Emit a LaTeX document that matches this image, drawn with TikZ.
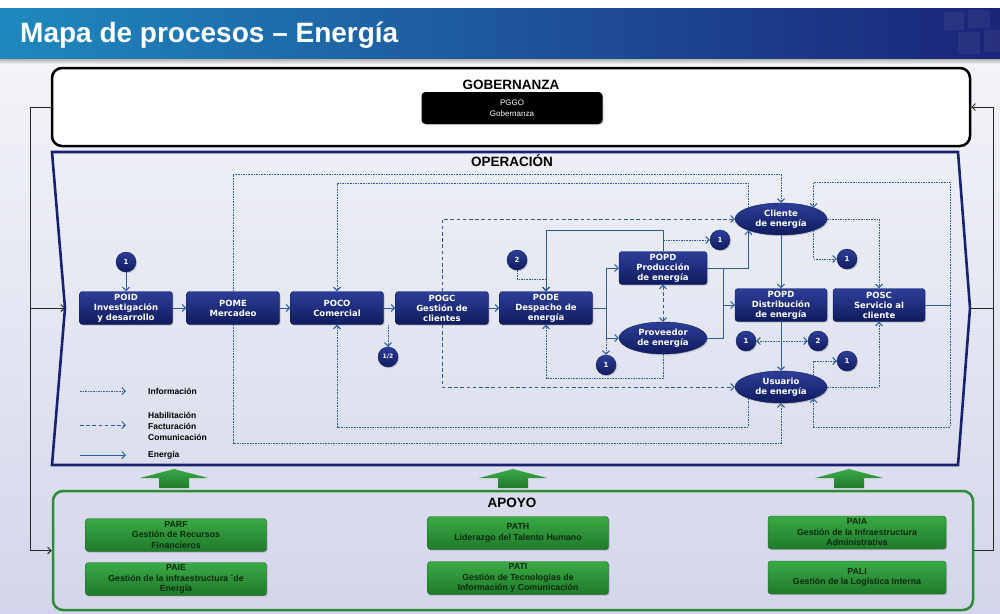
\documentclass[tikz,border=0pt]{standalone}
\usepackage{fontspec}
\setmainfont{Liberation Sans}
\newfontfamily\boxfont{DejaVu Sans}
\usetikzlibrary{arrows.meta,shapes.geometric,shadows}

\definecolor{navyA}{HTML}{2C3E98}
\definecolor{navyB}{HTML}{101B5E}
\definecolor{opborder}{HTML}{18226E}
\definecolor{link}{HTML}{2C5E9E}
\definecolor{greenA}{HTML}{3AAA45}
\definecolor{greenB}{HTML}{1F7A2B}
\definecolor{greenline}{HTML}{2E8B3A}
\definecolor{greentext}{HTML}{0B2A0E}
\definecolor{bgtop}{HTML}{F3F4F8}
\definecolor{bgmid}{HTML}{E0E2EE}
\definecolor{bgbot}{HTML}{D3D6EA}
\definecolor{barL}{HTML}{1F88BF}
\definecolor{barM}{HTML}{1E4F9F}
\definecolor{barR}{HTML}{1B2478}

\begin{document}
\begin{tikzpicture}[x=1pt,y=-1pt,
  nshadow/.style={drop shadow={shadow xshift=1.2pt,shadow yshift=-1.2pt,opacity=0.35}},
  proc/.style={rectangle,rounded corners=3pt,top color=navyA,bottom color=navyB,draw=navyB,
    line width=0.4pt,minimum width=93pt,minimum height=33pt,inner sep=1pt,align=center,
    text=white,font=\boxfont\bfseries\fontsize{8.5}{10}\selectfont,nshadow},
  agent/.style={ellipse,top color=navyA,bottom color=navyB,draw=navyB,line width=0.4pt,
    minimum width=92pt,minimum height=32pt,inner sep=0pt,align=center,
    text=white,font=\boxfont\bfseries\fontsize{8.5}{10}\selectfont,nshadow},
  badge/.style={circle,top color=navyA,bottom color=navyB,draw=navyB,line width=0.4pt,
    minimum size=20pt,inner sep=0pt,text=white,font=\boxfont\bfseries\fontsize{7}{7}\selectfont,nshadow},
  support/.style={rectangle,rounded corners=3pt,top color=greenA,bottom color=greenB,
    draw=greenB!80!black,line width=0.4pt,minimum width=181pt,minimum height=33pt,inner sep=1pt,
    align=center,text=greentext,font=\bfseries\fontsize{8.8}{10.5}\selectfont,
    drop shadow={shadow xshift=1.2pt,shadow yshift=-1.2pt,opacity=0.4}},
  header/.style={font=\bfseries\fontsize{13.5}{14}\selectfont,inner sep=0pt},
  legendtext/.style={anchor=west,align=left,inner sep=0pt,font=\bfseries\fontsize{8.5}{11}\selectfont},
  tip/.style={-{Straight Barb[length=3.5pt,width=7pt]}},
  both/.style={{Straight Barb[length=3.5pt,width=7pt]}-{Straight Barb[length=3.5pt,width=7pt]}},
  wire/.style={draw=link,line width=1pt},
  flow/.style={wire,tip},
  info/.style={flow,dash pattern=on 1.6pt off 1pt},
  hab/.style={flow,dash pattern=on 3.6pt off 2.6pt},
  outer/.style={draw=black!85,line width=0.9pt}
]
\useasboundingbox (0,0) rectangle (1000,613);

% page background and title bar
\fill[white] (0,0) rectangle (1000,613);
\shade[top color=bgtop,middle color=bgmid,bottom color=bgbot] (0,60) rectangle (1000,613);
\shade[top color=black!40,bottom color=bgtop] (0,57) rectangle (1000,64);
\shade[left color=barL,middle color=barM,right color=barR] (0,8) rectangle (1000,58);
\fill[white,opacity=0.06] (944,12) rectangle (964,30) (968,10) rectangle (990,28)
  (958,32) rectangle (980,54) (984,30) rectangle (1000,52);
\node[anchor=base west,text=white,inner sep=0pt,font=\bfseries\fontsize{28}{30}\selectfont]
  (title) at (20,42) {Mapa de procesos – Energía};

% governance block
\node[draw=black,line width=2.5pt,rounded corners=10pt,fill=white,
  minimum width=918pt,minimum height=78pt] (gob) at (511,107) {};
\node[header] (gobt) at (511,85) {GOBERNANZA};
\node[fill=black,rounded corners=4pt,minimum width=181pt,minimum height=32pt,text=white,
  align=center,font=\fontsize{8}{11}\selectfont,nshadow] (pggo) at (512,108) {PGGO\\Gobernanza};

% operation block (chevron outline)
\draw[opborder,line width=2.6pt,line join=miter]
  (52,152) -- (958,152) -- (970,308) -- (958,465) -- (52,465) -- (65,308) -- cycle;
\coordinate (opL) at (65,308);
\coordinate (opR) at (970,308);
\node[header] (opt) at (512,161) {OPERACIÓN};

% support block
\node[draw=greenline,line width=2.5pt,rounded corners=10pt,
  minimum width=920pt,minimum height=119pt] (apoyo) at (513,550.5) {};
\node[header] (apoyot) at (512,503) {APOYO};

% green up arrows from support to operation
\foreach \cx in {174,513,849}{
  \shade[top color=greenA,bottom color=greenB]
    (\cx-34,478) -- (\cx,469) -- (\cx+34,478) -- (\cx+15,478) -- (\cx+15,488)
    -- (\cx-15,488) -- (\cx-15,478) -- cycle;
}

% operation processes
\node[proc] (poid) at (126,308) {POID\\Investigación\\y desarrollo};
\node[proc] (pome) at (233,308) {POME\\Mercadeo};
\node[proc] (poco) at (337,308) {POCO\\Comercial};
\node[proc] (pogc) at (442,308) {POGC\\Gestión de\\clientes};
\node[proc] (pode) at (546,308) {PODE\\Despacho de\\energía};
\node[proc,minimum width=88pt] (popd) at (663,268) {POPD\\Producción\\de energía};
\node[agent,minimum width=88pt] (prov) at (663,338) {Proveedor\\de energía};
\node[agent] (cli) at (781,219) {Cliente\\de energía};
\node[proc,minimum width=92pt] (dist) at (781,305) {POPD\\Distribución\\de energía};
\node[proc,minimum width=92pt] (posc) at (879,305) {POSC\\Servicio al\\cliente};
\node[agent] (usu) at (781,387) {Usuario\\de energía};

% reference badges
\node[badge] (c1a) at (126,262) {1};
\node[badge,font=\boxfont\bfseries\fontsize{6}{6}\selectfont] (c12) at (388,357) {1/2};
\node[badge] (c2a) at (517,260) {2};
\node[badge] (c1b) at (606,365) {1};
\node[badge] (c1c) at (720,240) {1};
\node[badge] (c1d) at (847,259) {1};
\node[badge] (c1e) at (746,341) {1};
\node[badge] (c2b) at (818,341) {2};
\node[badge] (c1f) at (847,361) {1};

% energy flows
\draw[flow] (c1a) -- (poid);
\draw[flow] (poid) -- (pome);
\draw[flow] (pome) -- (poco);
\draw[flow] (poco) -- (pogc);
\draw[flow] (pogc) -- (pode);
\coordinate (jA) at (606,308);
\draw[wire] (pode.east) -- (jA);
\draw[flow] (jA) |- (popd.west);
\draw[flow] (jA) |- (prov.west);
\draw[flow] (popd.east) -| (cli.south west);
\coordinate (jB) at (723,305);
\draw[wire] (prov.east) -| (jB |- popd.east);
\draw[flow] (jB) -- (dist.west);
\draw[flow] (cli) -- (dist);
\draw[flow] (dist) -- (usu);
\coordinate (jR) at (950,305);
\draw[wire] (posc.east) -- (jR);
\draw[flow] (popd.north) -- (popd.north |- 0,230) -| (pode.north);

% information flows
\draw[info] (pome.north) -- (pome.north |- 0,174) -| (cli.north);
\draw[info] (cli.north west) -- (cli.north west |- 0,183) -| (poco.north);
\draw[info] (c2a) |- (pode.north |- 0,279) -- (pode.north);
\draw[info] (popd.north |- 0,240) -- (c1c);
\draw[info] (prov.south) -- (prov.south |- 0,378) -| (pode.south);
\draw[info] (jA) -- (c1b);
\draw[info] (c12.north |- poco.south) -- (c12);
\draw[info] (pome.south) -- (pome.south |- 0,443) -| (usu.south);
\draw[info] (usu.south west) -- (usu.south west |- 0,427) -| (poco.south);
\draw[info] (cli.east) -| (posc.north);
\draw[info] (cli.south east) |- (c1d);
\draw[info] (usu.east) -| (posc.south);
\draw[info] (usu.north east) |- (c1f);
\draw[info,both] (c1e) -- (c2b);
\draw[info] (jR) -- (jR |- 0,182) -| (cli.north east);
\draw[info] (jR) -- (jR |- 0,427) -| (usu.south east);

% enabling / billing / communication flows
\draw[hab] (pogc.north) |- (cli.west);
\draw[hab] (pogc.south) |- (usu.west);
\draw[hab,both] (popd.south) -- (prov.north);

% legend
\coordinate (lgA) at (80,391);
\coordinate (lgB) at (80,425);
\coordinate (lgC) at (80,455);
\draw[info] (lgA) -- ++(46,0);
\draw[hab] (lgB) -- ++(46,0);
\draw[flow] (lgC) -- ++(46,0);
\node[legendtext] (lgtA) at (148,391) {Información};
\node[legendtext] (lgtB) at (148,426) {Habilitación\\Facturación\\Comunicación};
\node[legendtext] (lgtC) at (148,455) {Energía};

% support processes
\node[support] (parf) at (176,535) {PARF\\Gestión de Recursos\\Financieros};
\node[support] (paie) at (176,579) {PAIE\\Gestión de la infraestructura ´de\\Energía};
\node[support] (path) at (518,533) {PATH\\Liderazgo del Talento Humano};
\node[support] (pati) at (518,578) {PATI\\Gestión de Tecnologías de\\Información y Comunicación};
\node[support,minimum width=178pt] (paia) at (857,532.5) {PAIA\\Gestión de la Infraestructura\\Administrativa};
\node[support,minimum width=178pt] (pali) at (857,577.5) {PALI\\Gestión de la Logística Interna};

% links between the three blocks
\coordinate (lx) at (30,308);
\coordinate (rx) at (993,308);
\draw[outer,tip] (gob.west) -- (gob.west -| lx) |- (apoyo.west);
\draw[outer,tip] (lx) -- (opL);
\draw[outer,tip] (apoyo.east) -- (apoyo.east -| rx) |- (gob.east);
\draw[outer] (opR) -- (rx);
\end{tikzpicture}
\end{document}
